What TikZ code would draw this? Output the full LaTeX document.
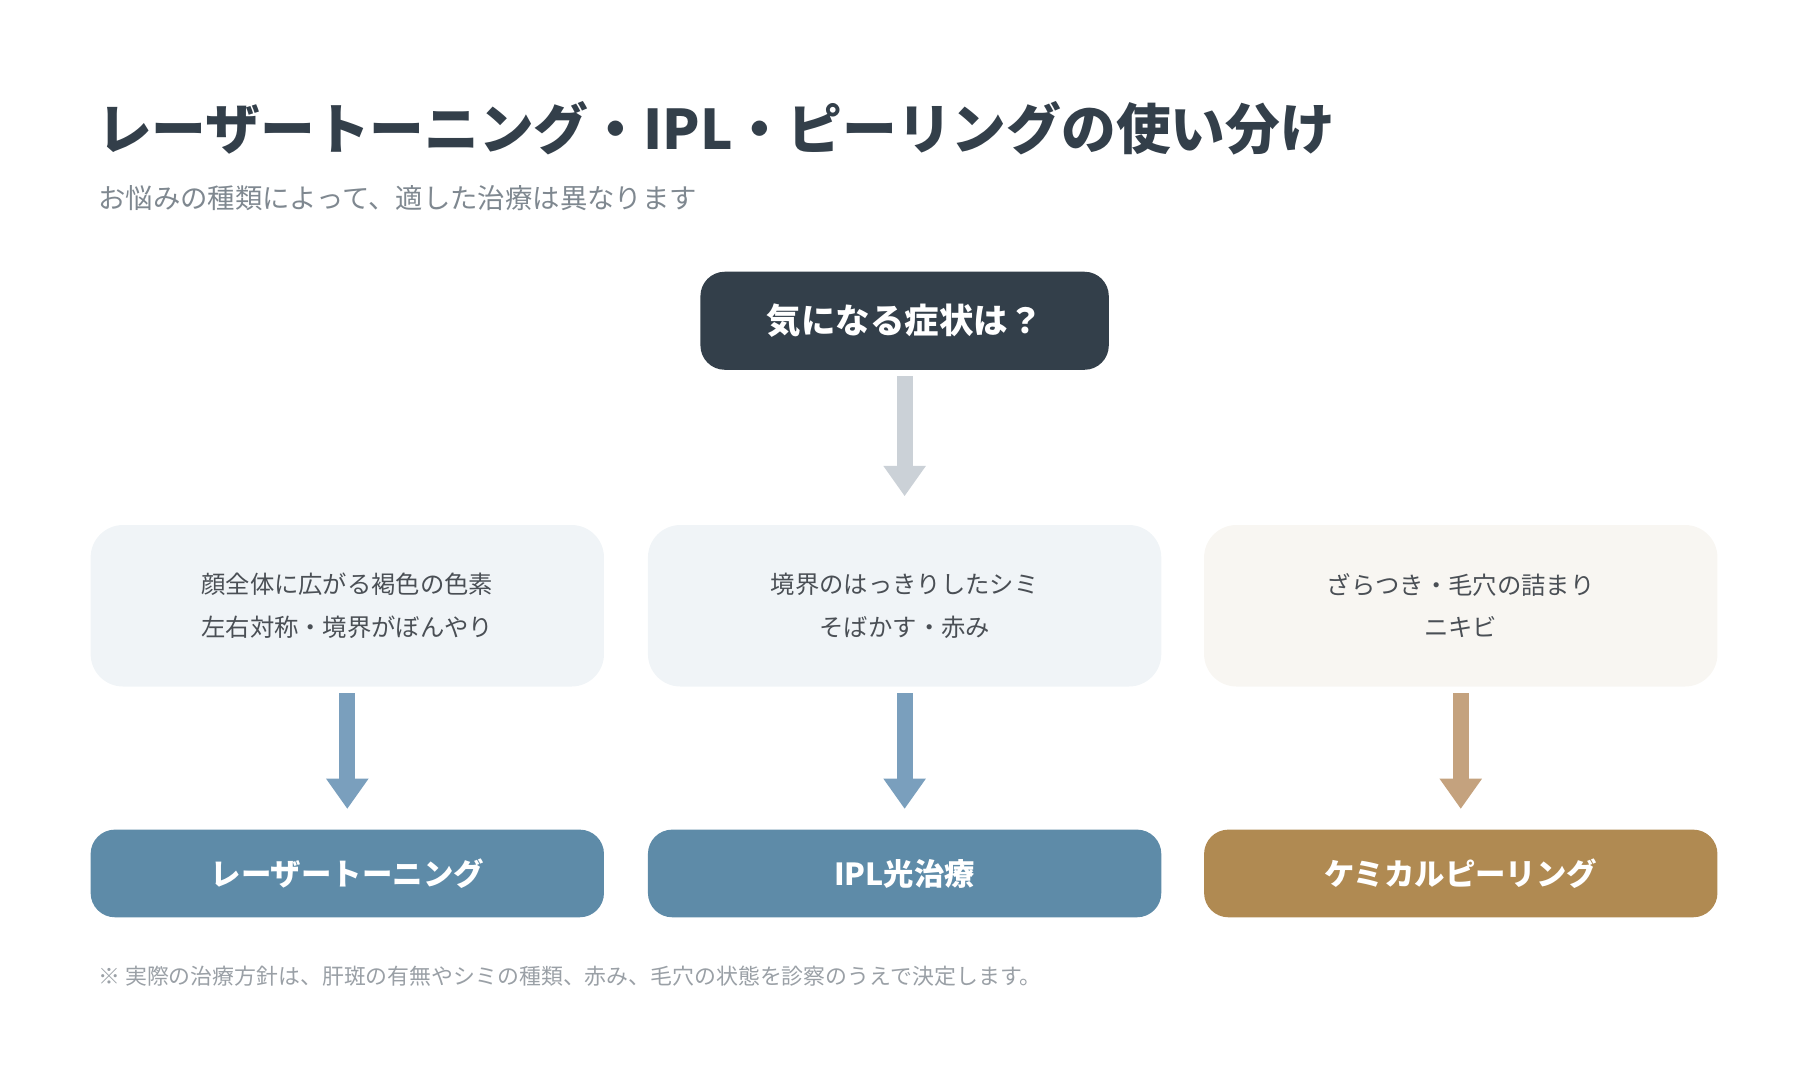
\documentclass[tikz,border=0pt]{standalone}
\usepackage{fontspec}
\setmainfont{Noto Sans CJK JP}
\usetikzlibrary{positioning}
\usetikzlibrary{arrows.meta}
\definecolor{ink}{HTML}{333F4A}
\definecolor{subgray}{HTML}{7F8890}
\definecolor{notegray}{HTML}{9AA0A6}
\definecolor{arrgray}{HTML}{CBD1D7}
\definecolor{paleblue}{HTML}{F0F4F7}
\definecolor{palebeige}{HTML}{F8F6F2}
\definecolor{blueline}{HTML}{7A9FBD}
\definecolor{brownline}{HTML}{C4A27E}
\definecolor{bluebox}{HTML}{5E8BA8}
\definecolor{brownbox}{HTML}{B08A52}
\definecolor{bodytext}{HTML}{4A4F55}
\tikzset{
  symptom/.style={rounded corners=16pt, minimum width=8.9cm, minimum height=2.8cm, align=center, text=bodytext, font=\fontsize{12}{21}\selectfont},
  result/.style={rounded corners=12pt, minimum width=8.9cm, minimum height=1.52cm, text=white, font=\fontsize{15}{18}\selectfont\bfseries},
  flow/.style={line width=8pt, -{Triangle[width=20pt,length=15pt]}, shorten <=3pt, shorten >=3pt}
}
\begin{document}
\begin{tikzpicture}[x=0.02cm,y=-0.02cm]
\useasboundingbox (0,0) rectangle (1560,928);
% title
\node[anchor=base west, text=ink, font=\fontsize{27}{30}\selectfont\bfseries] (title) at (78,130) {レーザートーニング・IPL・ピーリングの使い分け};
\node[anchor=base west, text=subgray, font=\fontsize{13.5}{16}\selectfont] (subtitle) at (79,181) {お悩みの種類によって、適した治療は異なります};
% question
\node[fill=ink, rounded corners=12pt, minimum width=7.08cm, minimum height=1.7cm, text=white, font=\fontsize{17}{20}\selectfont\bfseries] (question) at (784,278) {気になる症状は？};
% symptoms
\node[symptom, fill=paleblue] (toning) at (301,525) {顔全体に広がる褐色の色素\\左右対称・境界がぼんやり};
\node[symptom, fill=paleblue] (ipl) at (784,525) {境界のはっきりしたシミ\\そばかす・赤み};
\node[symptom, fill=palebeige] (peel) at (1266,525) {ざらつき・毛穴の詰まり\\ニキビ};
% treatments
\node[result, fill=bluebox] (toningres) at (301,757) {レーザートーニング};
\node[result, fill=bluebox] (iplres) at (784,757) {IPL光治療};
\node[result, fill=brownbox] (peelres) at (1266,757) {ケミカルピーリング};
% arrows
\draw[flow, arrgray, shorten >=14pt] (question) -- (ipl);
\draw[flow, blueline, shorten >=10pt] (toning) -- (toningres);
\draw[flow, blueline, shorten >=10pt] (ipl) -- (iplres);
\draw[flow, brownline, shorten >=10pt] (peel) -- (peelres);
% note
\node[anchor=base west, text=notegray, font=\fontsize{10.8}{13}\selectfont] (note) at (79,853) {※ 実際の治療方針は、肝斑の有無やシミの種類、赤み、毛穴の状態を診察のうえで決定します。};
\end{tikzpicture}
\end{document}
